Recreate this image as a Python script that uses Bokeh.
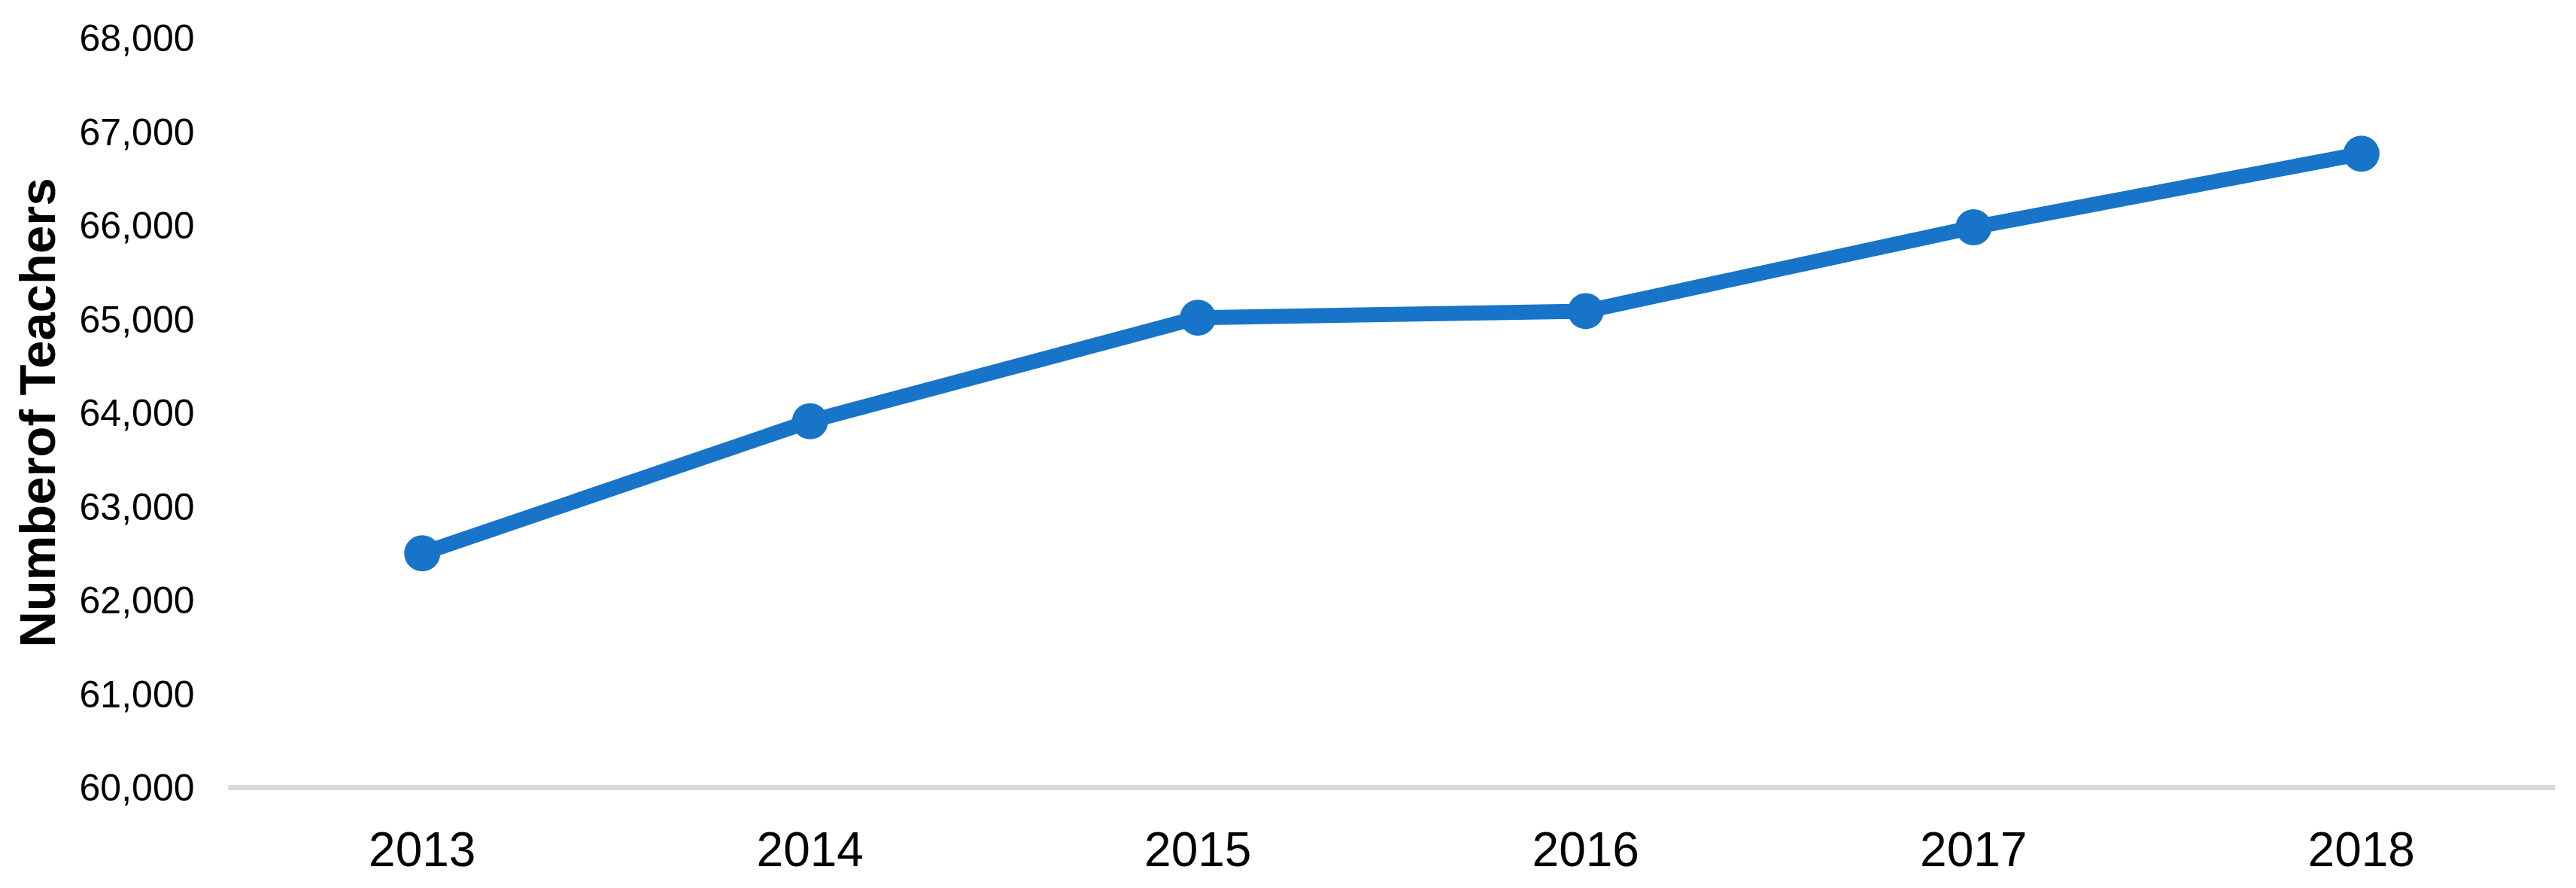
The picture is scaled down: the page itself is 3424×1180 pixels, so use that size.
from bokeh.plotting import figure
from bokeh.models import FactorRange, Range1d, FixedTicker, NumeralTickFormatter
from bokeh.embed import file_html
from bokeh.resources import INLINE

years = ["2013", "2014", "2015", "2016", "2017", "2018"]
teachers = [62500, 63910, 65015, 65085, 65980, 66765]
y_ticks = [60000, 61000, 62000, 63000, 64000, 65000, 66000, 67000, 68000]
y_title = "Numberof Teachers"

LINE_COLOR = "#1874C8"

p = figure(
    width=3408, height=1176,
    x_range=FactorRange(factors=years, range_padding=0),
    y_range=Range1d(60000, 68000),
    output_backend="svg", toolbar_location=None,
    min_border_left=303, min_border_right=12,
    min_border_top=50, min_border_bottom=130,
)
p.outline_line_color = None
p.background_fill_color = "white"
p.border_fill_color = "white"
p.xgrid.visible = False
p.ygrid.visible = False

p.line(x=years, y=teachers, line_color=LINE_COLOR, line_width=20, line_join="round")
p.scatter(x=years, y=teachers, size=48, fill_color=LINE_COLOR, line_color=None)

# y axis
ya = p.yaxis[0]
ya.ticker = FixedTicker(ticks=y_ticks)
ya.formatter = NumeralTickFormatter(format="0,0")
ya.axis_line_color = None
ya.major_tick_line_color = None
ya.minor_tick_line_color = None
ya.major_tick_out = 0
ya.minor_tick_out = 0
ya.major_label_standoff = 45
ya.major_label_text_font = "Liberation Sans"
ya.major_label_text_font_size = "50px"
ya.major_label_text_color = "#000000"
ya.axis_label = y_title
ya.axis_label_text_font = "Liberation Sans"
ya.axis_label_text_font_style = "bold"
ya.axis_label_text_font_size = "67px"
ya.axis_label_text_color = "#000000"
ya.axis_label_standoff = 16

# x axis
xa = p.xaxis[0]
xa.axis_line_color = "#D9D9D9"
xa.axis_line_width = 7
xa.major_tick_line_color = None
xa.minor_tick_line_color = None
xa.major_tick_out = 0
xa.minor_tick_out = 0
xa.major_label_standoff = 59
xa.major_label_text_font = "Liberation Sans"
xa.major_label_text_font_size = "64px"
xa.major_label_text_color = "#000000"

open("out.html", "w").write(file_html(p, INLINE))
